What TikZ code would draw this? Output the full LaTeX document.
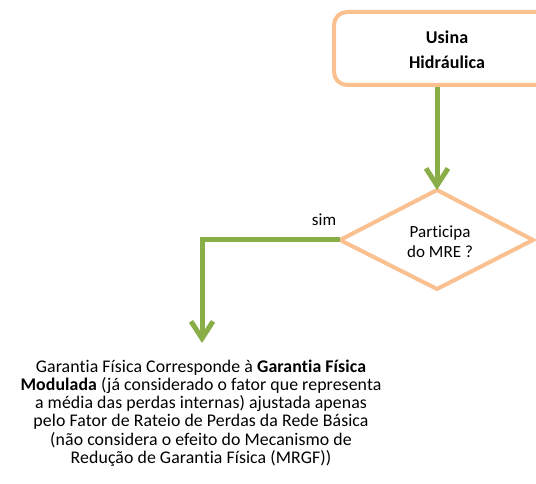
\documentclass[tikz,border=0pt]{standalone}
\usepackage{fontspec}
\setmainfont{Carlito}[Ligatures=NoCommon, LetterSpace=0.5]
\usetikzlibrary{shapes.geometric,arrows.meta}
\definecolor{peach}{HTML}{FAC090}
\definecolor{olive}{HTML}{8AAE47}
\tikzset{
  box/.style={draw=peach, line width=4pt, rounded corners=13pt, fill=white},
  flow/.style={draw=olive, line width=5pt, -{Straight Barb[length=17pt,width=22pt,line width=5pt]}},
  lbl/.style={font=\fontsize{17.8}{18.3}\selectfont, align=center, inner sep=0pt}
}
\begin{document}
\begin{tikzpicture}[x=1pt,y=-1pt]
\useasboundingbox (0,0) rectangle (536,484);
\fill[white] (0,0) rectangle (536,484);
\draw[box] (334,12) rectangle (562,85);
\node[lbl, font=\fontsize{18}{25}\selectfont\bfseries] (usina) at (447,50) {Usina\\Hidráulica};
\coordinate (boxb) at (437,87);
\coordinate (dtop) at (437,190);
\coordinate (dleft) at (340,240);
\coordinate (dbot) at (437,289);
\coordinate (dright) at (533,240);
\draw[draw=peach, line width=4pt, line join=miter] (dtop) -- (dright) -- (dbot) -- (dleft) -- cycle;
\node[lbl, font=\fontsize{17}{20}\selectfont] (mre) at (440,242) {Participa\\do MRE ?};
\node[lbl, font=\fontsize{17}{20}\selectfont] (sim) at (324,220) {sim};
\coordinate (corner) at (202,240);
\coordinate (tip) at (202,343);
\draw[flow] (boxb) -- (dtop);
\draw[flow] (dleft) -- (corner) -- (tip);
\node[lbl] (res) at (201,413) {Garantia Física Corresponde à \textbf{Garantia Física}\\
\textbf{Modulada} (já considerado o fator que representa\\
a média das perdas internas) ajustada apenas\\
pelo Fator de Rateio de Perdas da Rede Básica\\
(não considera o efeito do Mecanismo de\\
Redução de Garantia Física (MRGF))};
\end{tikzpicture}
\end{document}
